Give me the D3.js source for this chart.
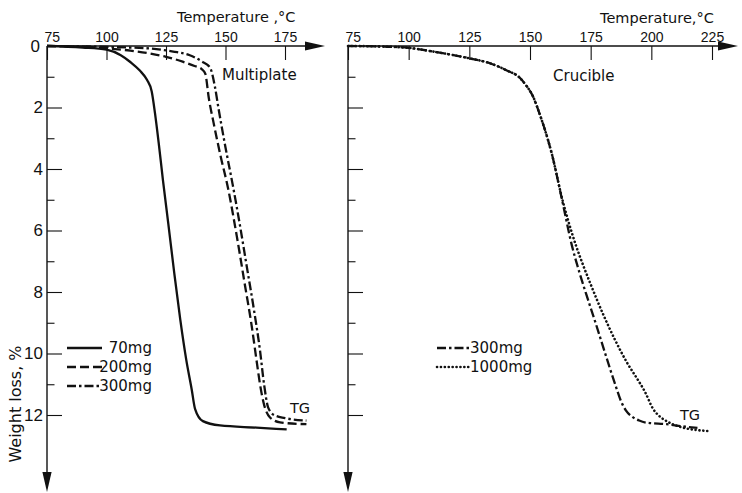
<!DOCTYPE html>
<html>
<head>
<meta charset="utf-8">
<script src="https://cdn.jsdelivr.net/npm/d3@7"></script>
<style>
  html, body { margin: 0; padding: 0; background: #fff; }
  svg { display: block; }
  text { fill: #111; }
</style>
</head>
<body>
<svg id="chart" width="742" height="493"></svg>
<script>
// ---------- data ----------
const tempTicksLeft = [75, 100, 125, 150, 175];
const tempTicksRight = [75, 100, 125, 150, 175, 200, 225];
const weightTicksMajor = [0, 2, 4, 6, 8, 10, 12];
const weightTicksMinor = [1, 3, 5, 7, 9, 11];

// Multiplate, 70 mg (temperature °C, weight loss %)
const multi70 = [[75,0],[90,0.05],[100,0.12],[106,0.3],[110,0.52],[114,0.8],[117,1.1],[119,1.48],
  [120.4,2.2],[122,3.2],[123.7,4.35],[126,5.8],[128.5,7.4],[131,8.9],[133.5,10.2],[135.8,11.17],
  [137.2,11.8],[140.5,12.2],[147.7,12.34],[163,12.41],[175.7,12.47]];
// Multiplate, 200 mg
const multi200 = [[75,0],[90,0.02],[100,0.08],[110,0.15],[118,0.24],[125,0.35],[132,0.51],[137,0.65],
  [140,0.75],[141.5,0.9],[143,1.7],[145,2.5],[148,3.6],[151,4.6],[155,6.3],[158,7.7],[161,9.1],
  [163,10.2],[164.5,11.0],[166,11.6],[168.7,12.08],[172.9,12.24],[184,12.3]];
// Multiplate, 300 mg
const multi300 = [[75,0],[100,0.03],[118,0.08],[128,0.18],[135,0.3],[140,0.5],[143.5,0.7],[145.5,1.3],
  [147,2.0],[150,3.3],[153,4.5],[156,5.8],[159,7.2],[162,8.6],[164.5,9.9],[166.2,11.0],[167.9,11.75],
  [170.4,12.0],[175,12.1],[184,12.18]];
// Crucible, 300 mg
const cruc300 = [[75,0],[90,0.02],[100,0.06],[110,0.18],[120,0.32],[125,0.4],[133.5,0.56],[140,0.78],
  [146,1.05],[148.3,1.27],[151,1.6],[154.1,2.24],[159.1,3.54],[163.2,5.0],[167.3,6.5],[170.5,7.4],
  [173.9,8.25],[177,9.0],[180,9.75],[183,10.5],[185.5,11.1],[187.5,11.55],[189.5,11.85],[192,12.05],
  [195,12.18],[198,12.25],[206.3,12.3],[214,12.38],[219,12.42]];
// Crucible, 1000 mg
const cruc1000 = [[75,0],[90,0.02],[100,0.06],[110,0.18],[120,0.32],[125,0.4],[133.5,0.56],[140,0.78],
  [146,1.05],[148.3,1.27],[151,1.6],[154.1,2.24],[159.1,3.54],[163.2,4.95],[166,5.75],[169,6.5],
  [172,7.15],[175,7.75],[180,8.7],[185,9.55],[190,10.3],[194,10.8],[197.4,11.25],[200.7,11.8],
  [203.5,12.05],[206.3,12.2],[213,12.41],[223.3,12.52]];

const legendLeft = ["70mg", "200mg", "300mg"];
const legendRight = ["300mg", "1000mg"];

// ---------- layout ----------
const svg = d3.select("#chart");
const FONT = "'DejaVu Sans', sans-serif";
const TICKFONT = "'Liberation Sans', sans-serif";
const YTICKFONT = "'Liberation Sans Narrow', 'Liberation Sans', sans-serif";

const y = d3.scaleLinear().domain([0, 12]).range([46, 415]);
const xL = d3.scaleLinear().domain([75, 175]).range([47, 285]);
const xR = d3.scaleLinear().domain([75, 225]).range([348, 712]);

const styles = {
  solid:   {dash: null, cap: "butt", w: 2.3},
  dashed:  {dash: "9,4", cap: "butt", w: 2.3},
  dashdot: {dash: "9,3,2.5,3", cap: "butt", w: 2.3},
  dotted:  {dash: "0.1,3.8", cap: "round", w: 2.6}
};

function panel(x, ticks, xEnd, showYLabels) {
  const g = svg.append("g");
  const x0 = x.range()[0];
  // x axis (ticks below line, labels above)
  const ax = g.append("g").attr("transform", `translate(0,${y(0)})`)
    .call(d3.axisTop(x).tickValues(ticks).tickSizeInner(-14).tickSizeOuter(0).tickPadding(4));
  ax.select(".domain").remove();
  ax.selectAll(".tick line").attr("stroke", "#111").attr("stroke-width", 1.1);
  ax.selectAll(".tick text").attr("font-family", TICKFONT).attr("font-size", 14).attr("fill", "#111")
    .attr("text-anchor", (d, i) => i === 0 ? "start" : "middle")
    .attr("dx", (d, i) => i === 0 ? -3 : 0);
  // x axis line + arrow
  g.append("line").attr("x1", x0).attr("x2", xEnd - 18).attr("y1", y(0)).attr("y2", y(0))
    .attr("stroke", "#111").attr("stroke-width", 1.4);
  g.append("path").attr("d", `M${xEnd - 20},${y(0) - 4.5}L${xEnd},${y(0)}L${xEnd - 20},${y(0) + 4.5}Z`).attr("fill", "#111");

  // y axis major ticks
  const ay = g.append("g").attr("transform", `translate(${x0},0)`)
    .call(d3.axisLeft(y).tickValues(weightTicksMajor.filter(d => d > 0)).tickSizeInner(-15).tickSizeOuter(0).tickPadding(4)
      .tickFormat(showYLabels ? d3.format("d") : () => ""));
  ay.select(".domain").remove();
  ay.selectAll(".tick line").attr("stroke", "#111").attr("stroke-width", 1.1);
  ay.selectAll(".tick text").attr("font-family", YTICKFONT).attr("font-size", 17).attr("fill", "#111");
  // minor ticks
  const am = g.append("g").attr("transform", `translate(${x0},0)`)
    .call(d3.axisLeft(y).tickValues(weightTicksMinor).tickSizeInner(-7.5).tickSizeOuter(0).tickFormat(() => ""));
  am.select(".domain").remove();
  am.selectAll(".tick line").attr("stroke", "#111").attr("stroke-width", 1.1);
  if (showYLabels) {
    g.append("text").attr("x", x0 - 7).attr("y", y(0)).attr("dy", "0.36em").attr("text-anchor", "end")
      .attr("font-family", YTICKFONT).attr("font-size", 17).text("0");
  }
  // y axis line + arrow
  g.append("line").attr("x1", x0).attr("x2", x0).attr("y1", y(0)).attr("y2", 474)
    .attr("stroke", "#111").attr("stroke-width", 1.4);
  g.append("path").attr("d", `M${x0 - 4.6},472L${x0},492L${x0 + 4.6},472Z`).attr("fill", "#111");
  return g;
}

const gL = panel(xL, tempTicksLeft, 325, true);
const gR = panel(xR, tempTicksRight, 738, false);

function drawCurve(g, x, data, st) {
  const s = styles[st];
  const line = d3.line().x(d => x(d[0])).y(d => y(d[1])).curve(d3.curveMonotoneX);
  g.append("path").datum(data).attr("d", line).attr("fill", "none").attr("stroke", "#111")
    .attr("stroke-width", s.w).attr("stroke-dasharray", s.dash).attr("stroke-linecap", s.cap)
    .attr("stroke-linejoin", "round");
}

drawCurve(gL, xL, multi70, "solid");
drawCurve(gL, xL, multi200, "dashed");
drawCurve(gL, xL, multi300, "dashdot");
drawCurve(gR, xR, cruc300, "dashdot");
drawCurve(gR, xR, cruc1000, "dotted");

// titles & labels
function label(txt, xp, yp, size, anchor) {
  svg.append("text").attr("x", xp).attr("y", yp).attr("font-family", FONT).attr("font-size", size)
    .attr("text-anchor", anchor || "start").text(txt);
}
label("Temperature ,°C", 177, 22, 14.5);
label("Temperature,°C", 600, 23, 14.5);
label("Multiplate", 222, 80, 15);
label("Crucible", 553, 81, 15);
label("TG", 290, 413, 14.5);
label("TG", 680, 420, 14.5);

svg.append("text").attr("transform", "translate(21,404) rotate(-90)").attr("text-anchor", "middle")
  .attr("font-family", FONT).attr("font-size", 16).text("Weight loss, %");

// legends
function legend(items, stylesList, lx1, lx2, tx, ys, anchor) {
  items.forEach((t, i) => {
    const s = styles[stylesList[i]];
    svg.append("line").attr("x1", lx1).attr("x2", lx2).attr("y1", ys[i]).attr("y2", ys[i])
      .attr("stroke", "#111").attr("stroke-width", s.w).attr("stroke-dasharray", s.dash).attr("stroke-linecap", s.cap);
    svg.append("text").attr("x", tx).attr("y", ys[i]).attr("dy", "0.35em").attr("text-anchor", anchor)
      .attr("font-family", FONT).attr("font-size", 15).text(t);
  });
}
legend(legendLeft, ["solid", "dashed", "dashdot"], 67, 102, 152, [348, 367, 386], "end");
legend(legendRight, ["dashdot", "dotted"], 437, 469, 470, [348, 367], "start");
</script>
</body>
</html>
